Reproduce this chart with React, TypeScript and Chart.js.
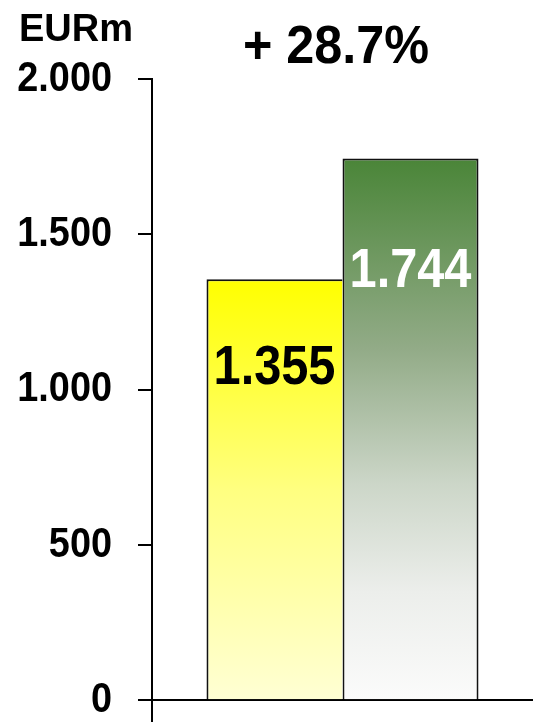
import { useEffect, useRef } from "react";
import { Chart, registerables } from "chart.js";

Chart.register(...registerables);

const categories = [""];
const seriesNames = ["Previous year", "Current year"];
const seriesValues = [1355, 1744];
const valueLabels = ["1.355", "1.744"];
const yTickValues = [0, 500, 1000, 1500, 2000];
const yTickLabels = ["0", "500", "1.000", "1.500", "2.000"];
const unitLabel = "EURm";
const growthLabel = "+ 28.7%";

const FONT = "'Liberation Sans', Arial, Helvetica, sans-serif";
const TICK_LEN = 14;
const TICK_PAD = 26;

const yellowStops: [number, string][] = [
  [0, "#ffff00"],
  [0.5, "#ffff80"],
  [1, "#ffffd4"],
];
const greenStops: [number, string][] = [
  [0, "#4a8538"],
  [0.35, "#92ab87"],
  [0.6, "#ccd6c8"],
  [0.8, "#eceeeb"],
  [1, "#fbfbfb"],
];

function gradientFor(stops: [number, string][]) {
  return (c: any) => {
    const chart = c.chart;
    if (!chart.chartArea || c.type !== "data") return stops[0][1];
    const ys = chart.scales.y;
    const top = ys.getPixelForValue(c.raw);
    const bottom = ys.getPixelForValue(0);
    const g = chart.ctx.createLinearGradient(0, top, 0, bottom);
    stops.forEach(([o, col]) => g.addColorStop(o, col));
    return g;
  };
}

const squeezePlugin = {
  id: "squeezeTicks",
  afterUpdate(chart: any) {
    const s = chart.scales.y;
    if (!s || s.__squeezed) return;
    const orig = s.drawLabels;
    s.drawLabels = function (area: any) {
      const ctx = this.ctx;
      const ax = this.right - TICK_LEN - TICK_PAD;
      ctx.save();
      ctx.translate(ax, 0);
      ctx.scale(0.88, 1);
      ctx.translate(-ax, 0);
      orig.call(this, area);
      ctx.restore();
    };
    s.__squeezed = true;
  },
};

const textPlugin = {
  id: "texts",
  afterDatasetsDraw(chart: any) {
    const ctx = chart.ctx;
    const ys = chart.scales.y;
    const colors = ["#000000", "#ffffff"];
    const size = 56;
    seriesValues.forEach((v, i) => {
      const bar = chart.getDatasetMeta(i).data[0];
      if (!bar) return;
      const cy = ys.getPixelForValue(v * 0.8);
      ctx.save();
      ctx.translate(bar.x, 0);
      ctx.scale(0.87, 1);
      ctx.font = `bold ${size}px ${FONT}`;
      ctx.fillStyle = colors[i];
      ctx.textAlign = "center";
      ctx.textBaseline = "alphabetic";
      ctx.fillText(valueLabels[i], 0, cy + size * 0.358);
      ctx.restore();
    });
  },
  afterDraw(chart: any) {
    const ctx = chart.ctx;
    ctx.save();
    ctx.fillStyle = "#000";
    ctx.textBaseline = "alphabetic";
    ctx.font = `bold 38px ${FONT}`;
    ctx.textAlign = "left";
    ctx.fillText(unitLabel, 19, 41);
    ctx.translate(336, 0);
    ctx.scale(0.95, 1);
    ctx.font = `bold 53px ${FONT}`;
    ctx.textAlign = "center";
    ctx.fillText(growthLabel, 0, 63);
    ctx.restore();
  },
};

export default function App() {
  const ref = useRef<HTMLCanvasElement | null>(null);

  useEffect(() => {
    document.body.style.margin = "0";
    if (!ref.current) return;
    const chart = new Chart(ref.current, {
      type: "bar",
      data: {
        labels: categories,
        datasets: [
          {
            label: seriesNames[0],
            data: [seriesValues[0]],
            backgroundColor: gradientFor(yellowStops),
            borderColor: "#111111",
            borderWidth: { top: 2, left: 2, right: 0, bottom: 0 },
            borderSkipped: false,
          },
          {
            label: seriesNames[1],
            data: [seriesValues[1]],
            backgroundColor: gradientFor(greenStops),
            borderColor: "#111111",
            borderWidth: { top: 2, left: 2, right: 2, bottom: 0 },
            borderSkipped: false,
          },
        ],
      },
      options: {
        animation: false,
        responsive: true,
        maintainAspectRatio: false,
        layout: { padding: { top: 79, left: 0, right: 0, bottom: 0 } },
        plugins: {
          legend: { display: false },
          tooltip: { enabled: false },
          title: { display: false },
        },
        datasets: {
          bar: { barPercentage: 1, categoryPercentage: 0.714 },
        },
        scales: {
          x: { display: false, offset: true },
          y: {
            min: -70,
            max: 2000,
            afterBuildTicks: (s: any) => {
              s.ticks = yTickValues.map((v) => ({ value: v }));
            },
            afterFit: (s: any) => {
              s.width = 152;
              s.paddingTop = 0;
              s.paddingBottom = 0;
            },
            border: { display: true, color: "#000", width: 2 },
            grid: {
              color: (c: any) =>
                c.tick && c.tick.value === 0 ? "#000" : "rgba(0,0,0,0)",
              lineWidth: 2,
              tickColor: "#000",
              tickLength: TICK_LEN,
              drawOnChartArea: true,
            },
            ticks: {
              autoSkip: false,
              padding: TICK_PAD,
              color: "#000",
              font: { family: FONT, size: 43, weight: "bold" },
              callback: (value: any) => {
                const idx = yTickValues.indexOf(Number(value));
                return idx >= 0 ? yTickLabels[idx] : "";
              },
            },
          },
        },
      },
      plugins: [squeezePlugin, textPlugin],
    });
    return () => chart.destroy();
  }, []);

  return (
    <div style={{ width: 533, height: 722, position: "relative" }}>
      <canvas ref={ref} />
    </div>
  );
}
